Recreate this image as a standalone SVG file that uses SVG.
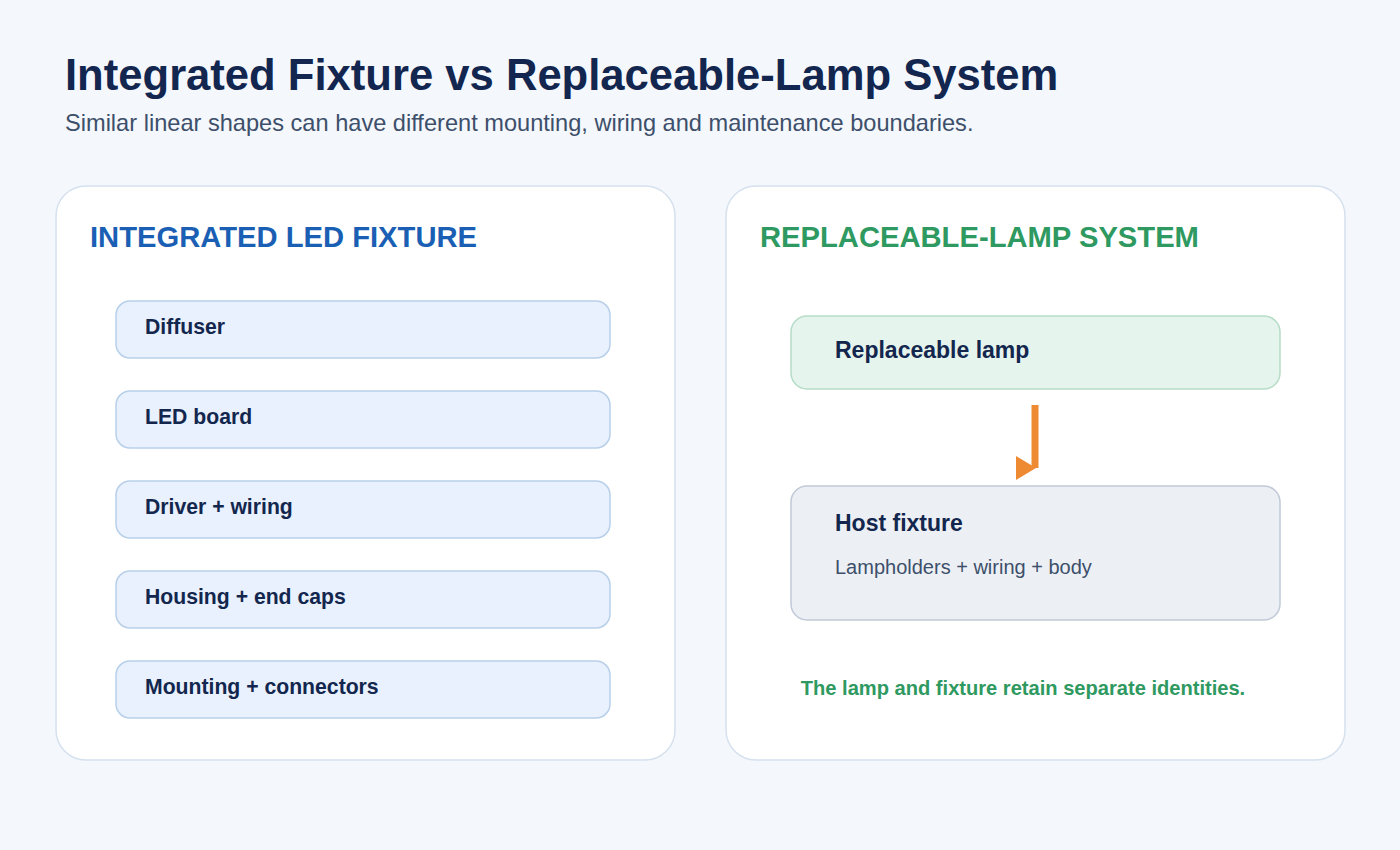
<svg xmlns="http://www.w3.org/2000/svg" width="1400" height="850" viewBox="0 0 1400 850">
<style>
.title{font-family:"Liberation Sans",Arial,sans-serif;font-weight:bold;font-size:43.6px;fill:#12264f}
.sub{font-family:"Liberation Sans",Arial,sans-serif;font-size:23.6px;fill:#3d4f6a}
.panel{fill:#ffffff;stroke:#d5e1ee;stroke-width:1.5}
.ph{font-family:"Liberation Sans",Arial,sans-serif;font-weight:bold;font-size:29.2px}
.item{fill:#e8f1fd;stroke:#b8cfe9;stroke-width:1.5}
.it{font-family:"Liberation Sans",Arial,sans-serif;font-weight:bold;font-size:21.2px;fill:#13264d}
.bt{font-family:"Liberation Sans",Arial,sans-serif;font-weight:bold;font-size:23px;fill:#13264d}
.st{font-family:"Liberation Sans",Arial,sans-serif;font-size:20px;fill:#3d4f6a}
.note{font-family:"Liberation Sans",Arial,sans-serif;font-weight:bold;font-size:20.1px;fill:#2e9960}
</style>
<defs>
<marker id="ah" markerUnits="userSpaceOnUse" markerWidth="22" markerHeight="26" refX="19" refY="13" orient="0">
<path d="M0,1 L20,13 L0,25 z" fill="#ee8a32"/>
</marker>
</defs>
<rect width="1400" height="850" fill="#f4f7fb"/>
<text class="title" x="65" y="90">Integrated Fixture vs Replaceable-Lamp System</text>
<text class="sub" x="65" y="131">Similar linear shapes can have different mounting, wiring and maintenance boundaries.</text>

<g id="panel-integrated">
<rect class="panel" x="56" y="186" width="619" height="574" rx="30"/>
<text class="ph" x="90" y="247" fill="#1a5fb4">INTEGRATED LED FIXTURE</text>
</g>
<g id="node-diffuser">
<rect class="item" x="116" y="301" width="494" height="57" rx="14"/>
<text class="it" x="145" y="334">Diffuser</text>
</g>
<g id="node-led-board">
<rect class="item" x="116" y="391" width="494" height="57" rx="14"/>
<text class="it" x="145" y="424">LED board</text>
</g>
<g id="node-driver">
<rect class="item" x="116" y="481" width="494" height="57" rx="14"/>
<text class="it" x="145" y="514">Driver + wiring</text>
</g>
<g id="node-housing">
<rect class="item" x="116" y="571" width="494" height="57" rx="14"/>
<text class="it" x="145" y="604">Housing + end caps</text>
</g>
<g id="node-mounting">
<rect class="item" x="116" y="661" width="494" height="57" rx="14"/>
<text class="it" x="145" y="694">Mounting + connectors</text>
</g>

<g id="panel-replaceable">
<rect class="panel" x="726" y="186" width="619" height="574" rx="30"/>
<text class="ph" x="760" y="247" fill="#2e9960">REPLACEABLE-LAMP SYSTEM</text>
<text class="note" x="1023" y="695" text-anchor="middle">The lamp and fixture retain separate identities.</text>
</g>
<g id="node-lamp">
<rect x="791" y="316" width="489" height="73" rx="16" fill="#e6f4ee" stroke="#b5dcc7" stroke-width="1.5"/>
<text class="bt" x="835" y="358">Replaceable lamp</text>
</g>
<g id="node-host">
<rect x="791" y="486" width="489" height="134" rx="16" fill="#ecf0f5" stroke="#c0c9d6" stroke-width="1.5"/>
<text class="bt" x="835" y="531">Host fixture</text>
<text class="st" x="835" y="574">Lampholders + wiring + body</text>
</g>

<g id="connectors">
<path d="M1035,405 L1035,468" stroke="#ee8a32" stroke-width="7" fill="none" marker-end="url(#ah)"/>
</g>
</svg>
